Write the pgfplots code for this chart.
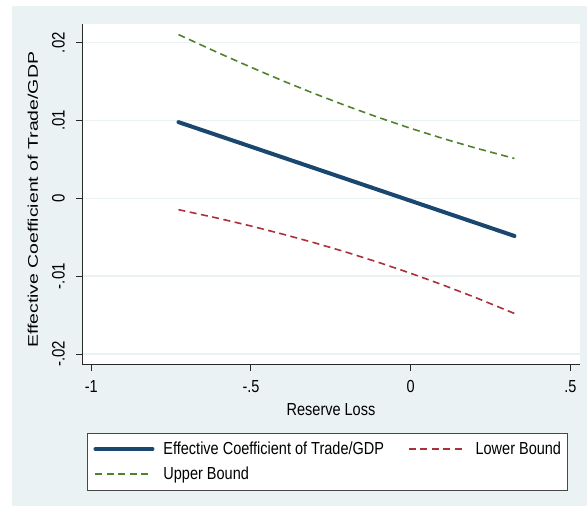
\documentclass[border=0pt]{standalone}
\usepackage{fontspec}
\setmainfont{Liberation Sans}
\usepackage{graphicx}
\usepackage{pgfplots}
\pgfplotsset{compat=1.18}
\definecolor{stbg}{RGB}{234,242,243}
\definecolor{stnavy}{RGB}{26,71,111}
\definecolor{stred}{RGB}{172,48,58}
\definecolor{stgreen}{RGB}{80,130,45}
\definecolor{staxis}{RGB}{40,40,40}
\newcommand{\st}[1]{\scalebox{1}[1.2]{#1}}
\begin{document}
\begin{tikzpicture}[x=1bp,y=1bp]
\useasboundingbox (0,0) rectangle (587,506);
\fill[stbg] (12,0) rectangle (587,500);
\begin{axis}[
  at={(82bp,141bp)}, anchor=south west,
  scale only axis, width=498bp, height=341bp,
  xmin=-1.0291, xmax=0.5304, ymin=-0.02141, ymax=0.02241,
  scaled y ticks=false, scaled x ticks=false,
  axis x line*=bottom, axis y line*=left,
  axis line style={staxis, line width=1bp, -},
  axis background/.style={fill=white},
  xtick={-1,-0.5,0,0.5}, xticklabels={\st{-1},\st{-.5},\st{0},\st{.5}},
  ytick={-0.02,-0.01,0,0.01,0.02}, yticklabels={\st{-.02},\st{-.01},\st{0},\st{.01},\st{.02}},
  tick align=outside, major tick length=6bp,
  tick style={staxis, line width=1bp},
  ymajorgrids, grid style={stbg, line width=1.5bp},
  xticklabel style={font=\fontsize{14.5bp}{17bp}\selectfont, inner sep=0pt, yshift=-9bp},
  yticklabel style={font=\fontsize{15bp}{17bp}\selectfont, rotate=90, anchor=south, inner sep=0pt, yshift=11bp},
  xlabel={\st{Reserve Loss}},
  xlabel style={font=\fontsize{14.5bp}{17bp}\selectfont, at={(axis description cs:0.5,-0.132)}, anchor=center, inner sep=0pt},
  ylabel={\scalebox{1.39}[1]{Effective Coefficient of Trade/GDP}},
  ylabel style={font=\fontsize{14bp}{17bp}\selectfont, at={(axis description cs:-0.0984,0.484)}, anchor=center, inner sep=0pt},
  legend columns=2, legend cell align=left,
  legend image code/.code={\draw[#1] (0bp,0bp) -- (57bp,0bp);},
  legend style={at={(axis description cs:0.4925,-0.2830)}, anchor=center,
    draw=staxis!85, line width=1bp, fill=white, inner xsep=6bp, inner ysep=8bp,
    font=\fontsize{14.5bp}{17bp}\selectfont,
    nodes={inner sep=0pt, text height=13bp, text depth=3bp},
    row sep=9bp,
    /tikz/every odd column/.style={column sep=9bp},
    /tikz/every even column/.style={column sep=24bp}},
]
\addplot[stnavy, line width=4bp, line cap=round] coordinates {
  (-0.727,0.00980) (-0.5,0.00665) (0,-0.00031) (0.325,-0.00483)};
\addlegendentry{\st{Effective Coefficient of Trade/GDP}}
\addplot[stred, line width=1.6bp, dash pattern=on 7bp off 4.5bp] coordinates {
  (-0.727,-0.00145) (-0.6,-0.00258) (-0.5,-0.00355) (-0.4,-0.00460)
  (-0.3,-0.00572) (-0.2,-0.00693) (-0.1,-0.00823) (0,-0.00962)
  (0.1,-0.01111) (0.2,-0.01269) (0.325,-0.01479)};
\addlegendentry{\st{Lower Bound}}
\addplot[stgreen, line width=1.6bp, dash pattern=on 7bp off 4.5bp] coordinates {
  (-0.727,0.02105) (-0.6,0.01866) (-0.5,0.01685) (-0.4,0.01510)
  (-0.3,0.01344) (-0.2,0.01187) (-0.1,0.01039) (0,0.00900)
  (0.1,0.00771) (0.2,0.00651) (0.325,0.00513)};
\addlegendentry{\st{Upper Bound}}
\end{axis}
\end{tikzpicture}
\end{document}
